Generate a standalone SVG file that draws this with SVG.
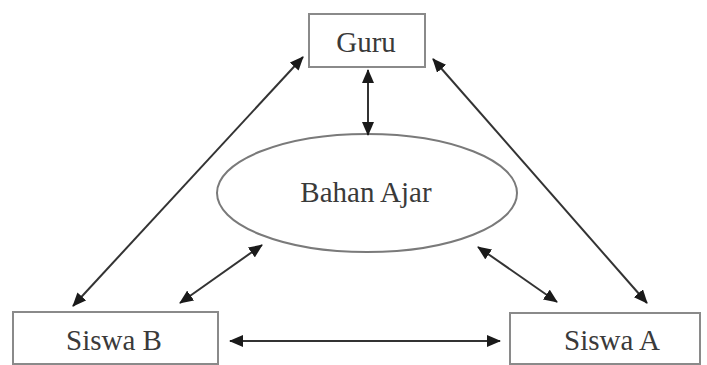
<svg xmlns="http://www.w3.org/2000/svg" width="707" height="365" viewBox="0 0 707 365">
<style>
.box{fill:#fff;stroke:#8a8a8a;stroke-width:2}
.lbl{font-family:"Liberation Serif","Times New Roman",serif;font-size:29px;fill:#3a3a3a;text-anchor:middle}
.con{stroke:#333;stroke-width:2;fill:none;marker-start:url(#ah);marker-end:url(#ah)}
</style>
<defs>
<marker id="ah" markerUnits="userSpaceOnUse" markerWidth="14" markerHeight="12" refX="13" refY="6" orient="auto-start-reverse" viewBox="0 0 14 12">
<path d="M0,0 L14,6 L0,12 Z" fill="#1a1a1a"/>
</marker>
</defs>
<rect width="707" height="365" fill="#fff"/>
<g id="guru"><rect class="box" x="309" y="14" width="116" height="53"/><text class="lbl" x="366" y="52">Guru</text></g>
<g id="bahan-ajar"><ellipse cx="367" cy="193" rx="150" ry="59" fill="#fff" stroke="#7a7a7a" stroke-width="2"/><text class="lbl" x="366" y="202">Bahan Ajar</text></g>
<g id="siswa-b"><rect class="box" x="13" y="312" width="205" height="52"/><text class="lbl" x="114" y="350">Siswa B</text></g>
<g id="siswa-a"><rect class="box" x="510" y="313" width="190" height="51"/><text class="lbl" x="612" y="350">Siswa A</text></g>
<g id="connectors">
<line class="con" x1="368" y1="70" x2="368" y2="135"/>
<line class="con" x1="303" y1="57" x2="73" y2="306"/>
<line class="con" x1="262" y1="245" x2="180" y2="303"/>
<line class="con" x1="433" y1="59" x2="647" y2="303"/>
<line class="con" x1="478" y1="247" x2="557" y2="302"/>
<line class="con" x1="230" y1="341" x2="500" y2="341"/>
</g>
</svg>
